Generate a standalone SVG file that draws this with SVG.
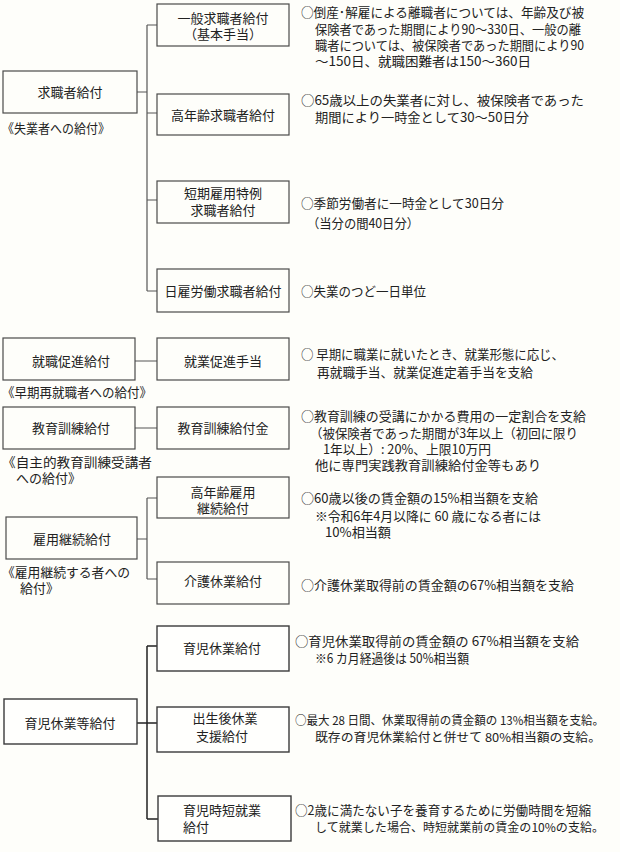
<svg xmlns="http://www.w3.org/2000/svg" width="620" height="852" viewBox="0 0 620 852">
<style>
.bg{fill:#fefefa}
.box{fill:#fefefa;stroke:#4a4a4a;stroke-width:1.2}
.box2{fill:#fffffd;stroke:#3a3a3a;stroke-width:1.4}
text{font-family:"Noto Sans CJK JP","Noto Sans",sans-serif;fill:#222;font-size:13px}
.c{text-anchor:middle}
.d{font-size:12.8px}
.s{font-size:12px}
.conn{stroke:#555;stroke-width:1.2;fill:none}
.conn2{stroke:#222;stroke-width:1.5;fill:none}
</style>
<rect class="bg" x="0" y="0" width="620" height="852"/>

<g id="connectors">
  <path class="conn" d="M147,25 V291 M137,92 H147 M147,25 H157 M147,113 H157 M147,200 H157 M147,291 H157"/>
  <path class="conn" d="M135,361 H157 M135,428 H157"/>
  <path class="conn" d="M147,498 V579 M137,539 H147 M147,498 H157 M147,579 H157"/>
  <path class="conn2" d="M147,646 V819 M137,723 H157 M147,646 H157 M147,819 H158"/>
</g>

<!-- Section 1 -->
<g id="kyushokusha">
  <rect class="box" x="3" y="71" width="134" height="42"/>
  <text class="c" x="70" y="97">求職者給付</text>
  <text x="2" y="133" textLength="108" lengthAdjust="spacingAndGlyphs">《失業者への給付》</text>
</g>
<g id="ippan">
  <rect class="box" x="157" y="4" width="132" height="42"/>
  <text class="c" x="223" y="23">一般求職者給付</text>
  <text class="c" x="223" y="39">（基本手当）</text>
</g>
<g id="ippan-desc">
  <text class="d" x="301" y="17" textLength="283" lengthAdjust="spacingAndGlyphs">○倒産･解雇による離職者については、年齢及び被</text>
  <text class="d" x="315" y="34" textLength="266" lengthAdjust="spacingAndGlyphs">保険者であった期間により90～330日、一般の離</text>
  <text class="d" x="315" y="50" textLength="269" lengthAdjust="spacingAndGlyphs">職者については、被保険者であった期間により90</text>
  <text class="d" x="315" y="66" textLength="216" lengthAdjust="spacingAndGlyphs">～150日、就職困難者は150～360日</text>
</g>
<g id="koureisha">
  <rect class="box" x="157" y="94" width="132" height="41"/>
  <text class="c" x="223" y="120">高年齢求職者給付</text>
</g>
<g id="koureisha-desc">
  <text class="d" x="301" y="105" textLength="283" lengthAdjust="spacingAndGlyphs">○65歳以上の失業者に対し、被保険者であった</text>
  <text class="d" x="315" y="122" textLength="214" lengthAdjust="spacingAndGlyphs">期間により一時金として30～50日分</text>
</g>
<g id="tanki">
  <rect class="box" x="157" y="181" width="132" height="42"/>
  <text class="c" x="223" y="198">短期雇用特例</text>
  <text class="c" x="223" y="215">求職者給付</text>
</g>
<g id="tanki-desc">
  <text class="d" x="301" y="208" textLength="203" lengthAdjust="spacingAndGlyphs">○季節労働者に一時金として30日分</text>
  <text class="d" x="307" y="228" textLength="112" lengthAdjust="spacingAndGlyphs">（当分の間40日分）</text>
</g>
<g id="hiyatoi">
  <rect class="box" x="157" y="269" width="132" height="43"/>
  <text class="c" x="223" y="296">日雇労働求職者給付</text>
</g>
<g id="hiyatoi-desc">
  <text class="d" x="301" y="296" textLength="125" lengthAdjust="spacingAndGlyphs">○失業のつど一日単位</text>
</g>

<!-- Section 2 -->
<g id="shushoku">
  <rect class="box" x="3" y="338" width="132" height="42"/>
  <text class="c" x="71" y="366">就職促進給付</text>
  <text x="2" y="397" textLength="150" lengthAdjust="spacingAndGlyphs">《早期再就職者への給付》</text>
</g>
<g id="shugyo">
  <rect class="box" x="157" y="338" width="132" height="42"/>
  <text class="c" x="223" y="366">就業促進手当</text>
</g>
<g id="shugyo-desc">
  <text class="d" x="301" y="359" textLength="263" lengthAdjust="spacingAndGlyphs">○ 早期に職業に就いたとき、就業形態に応じ、</text>
  <text class="d" x="317" y="377" textLength="216" lengthAdjust="spacingAndGlyphs">再就職手当、就業促進定着手当を支給</text>
</g>
<g id="kyoiku">
  <rect class="box" x="3" y="407" width="132" height="42"/>
  <text class="c" x="71" y="433">教育訓練給付</text>
  <text x="2" y="467" textLength="150" lengthAdjust="spacingAndGlyphs">《自主的教育訓練受講者</text>
  <text x="16" y="483">への給付》</text>
</g>
<g id="kyoikukin">
  <rect class="box" x="157" y="407" width="132" height="42"/>
  <text class="c" x="223" y="433">教育訓練給付金</text>
</g>
<g id="kyoikukin-desc">
  <text class="d" x="301" y="421" textLength="285" lengthAdjust="spacingAndGlyphs">○教育訓練の受講にかかる費用の一定割合を支給</text>
  <text class="d" x="310" y="438" textLength="268" lengthAdjust="spacingAndGlyphs">（被保険者であった期間が3年以上（初回に限り</text>
  <text class="d" x="323" y="454" textLength="168" lengthAdjust="spacingAndGlyphs">1年以上）: 20%、上限10万円</text>
  <text class="d" x="315" y="470" textLength="226" lengthAdjust="spacingAndGlyphs">他に専門実践教育訓練給付金等もあり</text>
</g>

<!-- Section 3 -->
<g id="koyoukeizoku">
  <rect class="box" x="6" y="517" width="131" height="42"/>
  <text class="c" x="72" y="544">雇用継続給付</text>
  <text x="2" y="577" textLength="128" lengthAdjust="spacingAndGlyphs">《雇用継続する者への</text>
  <text x="20" y="593">給付》</text>
</g>
<g id="koureikoyou">
  <rect class="box" x="157" y="477" width="132" height="41"/>
  <text class="c" x="223" y="497">高年齢雇用</text>
  <text class="c" x="223" y="513">継続給付</text>
</g>
<g id="koureikoyou-desc">
  <text class="d" x="301" y="503" textLength="237" lengthAdjust="spacingAndGlyphs">○60歳以後の賃金額の15%相当額を支給</text>
  <text class="d" x="315" y="521" textLength="226" lengthAdjust="spacingAndGlyphs">※令和6年4月以降に 60 歳になる者には</text>
  <text class="d" x="325" y="537" textLength="66" lengthAdjust="spacingAndGlyphs">10%相当額</text>
</g>
<g id="kaigo">
  <rect class="box" x="157" y="562" width="132" height="42"/>
  <text class="c" x="223" y="586">介護休業給付</text>
</g>
<g id="kaigo-desc">
  <text class="d" x="301" y="590" textLength="273" lengthAdjust="spacingAndGlyphs">○介護休業取得前の賃金額の67%相当額を支給</text>
</g>

<!-- Section 4 -->
<g id="ikuji-tou">
  <rect class="box2" x="4" y="699" width="133" height="45"/>
  <text class="c" x="70" y="728">育児休業等給付</text>
</g>
<g id="ikuji">
  <rect class="box2" x="157" y="626" width="132" height="45"/>
  <text class="c" x="222" y="653">育児休業給付</text>
</g>
<g id="ikuji-desc">
  <text class="d" x="295" y="646" textLength="284" lengthAdjust="spacingAndGlyphs">○育児休業取得前の賃金額の 67%相当額を支給</text>
  <text class="d" x="315" y="663" textLength="154" lengthAdjust="spacingAndGlyphs">※6 カ月経過後は 50%相当額</text>
</g>
<g id="shusseigo">
  <rect class="box2" x="157" y="707" width="132" height="45"/>
  <text class="c" x="225" y="723">出生後休業</text>
  <text class="c" x="222" y="741">支援給付</text>
</g>
<g id="shusseigo-desc">
  <text class="d s" x="295" y="725" textLength="309" lengthAdjust="spacingAndGlyphs">○最大 28 日間、休業取得前の賃金額の 13%相当額を支給。</text>
  <text class="d s" x="315" y="742" textLength="286" lengthAdjust="spacingAndGlyphs">既存の育児休業給付と併せて 80%相当額の支給。</text>
</g>
<g id="jitan">
  <rect class="box2" x="158" y="796" width="133" height="45"/>
  <text x="183" y="815">育児時短就業</text>
  <text x="183" y="832">給付</text>
</g>
<g id="jitan-desc">
  <text class="d" x="295" y="815" textLength="296" lengthAdjust="spacingAndGlyphs">○2歳に満たない子を養育するために労働時間を短縮</text>
  <text class="d s" x="315" y="832" textLength="289" lengthAdjust="spacingAndGlyphs">して就業した場合、時短就業前の賃金の10%の支給。</text>
</g>
</svg>
